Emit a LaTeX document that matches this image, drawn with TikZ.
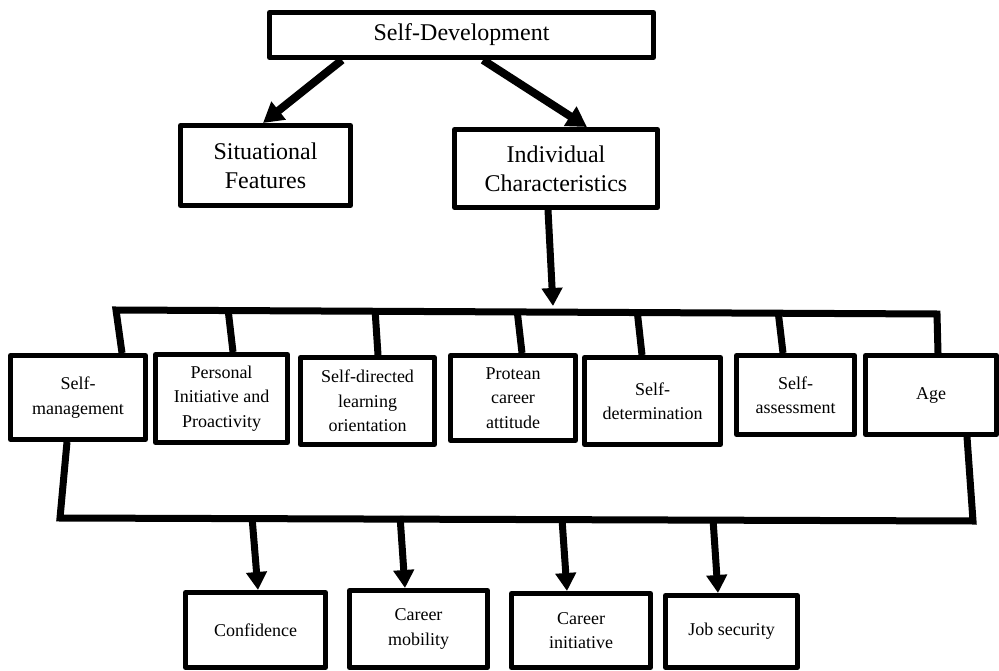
\documentclass[tikz,border=0pt]{standalone}
\usepackage{fontspec}
\setmainfont{Liberation Serif}
\usetikzlibrary{arrows.meta,calc}
\begin{document}
\begin{tikzpicture}[x=1pt,y=-1pt,
  box/.style={draw=black,line width=5pt,rectangle,inner sep=2pt,align=center,
              font=\fontsize{18}{24.5}\selectfont,line join=round},
  bigbox/.style={box,font=\fontsize{24}{29}\selectfont},
  link/.style={line width=7pt,line join=miter},
  arr/.style={line width=7pt,-{Triangle[length=18pt,width=20pt]}},
  bigarr/.style={line width=8pt,-{Triangle[length=20pt,width=22pt]}}]
\useasboundingbox (0,0) rectangle (999,671);

% top level
\node[bigbox,minimum width=384pt,minimum height=45pt] (dev) at (461.5,35) {Self-Development};
\node[bigbox,minimum width=170pt,minimum height=80pt] (sit) at (265.5,165.5) {Situational\\Features};
\node[bigbox,minimum width=203pt,minimum height=78pt] (ind) at (556,168.5) {Individual\\Characteristics};

% individual characteristics
\node[box,minimum width=135pt,minimum height=84pt] (sm)   at (78,397.5)   {Self-\\management};
\node[box,minimum width=132pt,minimum height=88pt] (pi)   at (221.5,398.5) {Personal\\Initiative and\\Proactivity};
\node[box,minimum width=134pt,minimum height=87pt] (sd)   at (367.5,401)  {Self-directed\\learning\\orientation};
\node[box,minimum width=125pt,minimum height=85pt] (pc)   at (513,398)    {Protean\\career\\attitude};
\node[box,minimum width=136pt,minimum height=87pt] (sdet) at (652.5,401)  {Self-\\determination};
\node[box,minimum width=118pt,minimum height=79pt] (sa)   at (795.5,395)  {Self-\\assessment};
\node[box,minimum width=131pt,minimum height=79pt] (age)  at (931,395)    {Age};

% outcomes
\node[box,minimum width=140pt,minimum height=75pt] (conf) at (255.5,630)  {Confidence};
\node[box,minimum width=138pt,minimum height=77pt] (mob)  at (418.5,629)  {Career\\mobility};
\node[box,minimum width=139pt,minimum height=74pt] (ini)  at (581,630.5)  {Career\\initiative};
\node[box,minimum width=132pt,minimum height=72pt] (job)  at (731.5,631.5) {Job security};

% bar corners
\coordinate (tl) at (116,310);
\coordinate (tr) at (937,314);
\coordinate (tip) at (553,306);
\coordinate (bl) at (60,518);
\coordinate (br) at (973,521);

% self-development splits
\draw[bigarr] ([xshift=-119.5pt]dev.south) -- ([xshift=-2.5pt]sit.north);
\draw[bigarr] ([xshift=21.5pt]dev.south) -- ([xshift=31pt]ind.north);

% characteristics to the upper bar
\draw[arr] ([xshift=-8pt]ind.south) -- (tip);
\draw[link] ([xshift=44pt]sm.north) -- (tl) -- (tr) -- ([xshift=7pt]age.north);
\draw[link] ([xshift=11.5pt]pi.north) -- ++(-5,-43);
\draw[link] ([xshift=10.5pt]sd.north) -- ++(-3,-46);
\draw[link] ([xshift=9pt]pc.north) -- ++(-5,-43.5);
\draw[link] ([xshift=-10.5pt]sdet.north) -- ++(-5,-45.5);
\draw[link] ([xshift=-12.5pt]sa.north) -- ++(-5,-42.5);

% lower bar
\draw[link] ([xshift=-11pt]sm.south) -- (bl) -- (br) -- ([xshift=36pt]age.south);

% lower bar to outcomes
\draw[arr] ($([xshift=2.5pt]conf.north)+(-6,-73)$) -- ([xshift=2.5pt]conf.north);
\draw[arr] ($([xshift=-13.5pt]mob.north)+(-5,-72)$) -- ([xshift=-13.5pt]mob.north);
\draw[arr] ($([xshift=-14pt]ini.north)+(-5,-72)$) -- ([xshift=-14pt]ini.north);
\draw[arr] ($([xshift=-13.5pt]job.north)+(-5,-74)$) -- ([xshift=-13.5pt]job.north);
\end{tikzpicture}
\end{document}
